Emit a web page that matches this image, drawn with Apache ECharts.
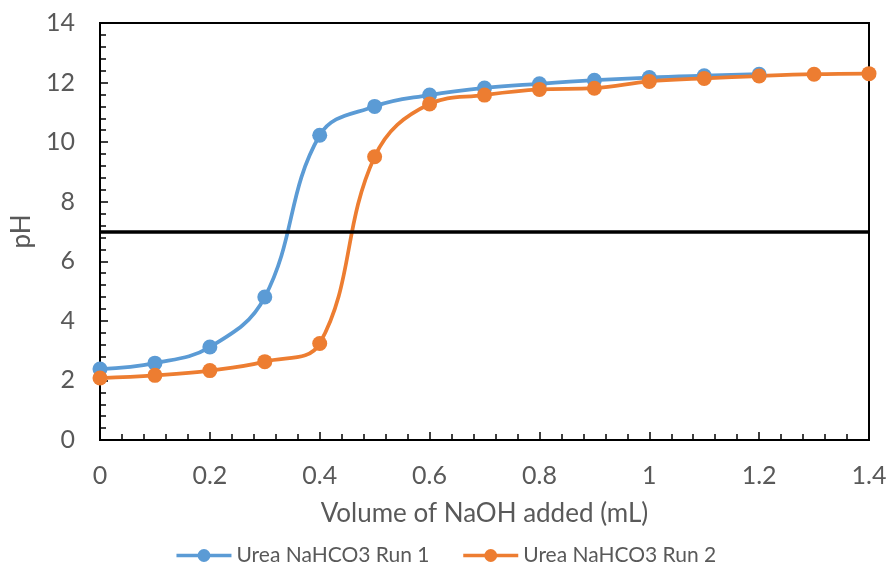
<!DOCTYPE html>
<html><head><meta charset="utf-8">
<script src="https://cdn.jsdelivr.net/npm/echarts@6/dist/echarts.min.js"></script>
<style>html,body{margin:0;padding:0;background:#fff}#c{width:891px;height:565px}</style>
</head><body><div id="c"></div>
<script>
const run1X = [0, 0.1, 0.2, 0.3, 0.4, 0.5, 0.6, 0.7, 0.8, 0.9, 1.0, 1.1, 1.2];
const run1Y = [2.38, 2.58, 3.12, 4.8, 10.23, 11.2, 11.58, 11.82, 11.96, 12.08, 12.17, 12.23, 12.28];
const run2X = [0, 0.1, 0.2, 0.3, 0.4, 0.5, 0.6, 0.7, 0.8, 0.9, 1.0, 1.1, 1.2, 1.3, 1.4];
const run2Y = [2.08, 2.17, 2.33, 2.63, 3.24, 9.51, 11.28, 11.58, 11.77, 11.81, 12.04, 12.14, 12.22, 12.28, 12.3];
const refPH = 7;
const xTicks = [0, 0.2, 0.4, 0.6, 0.8, 1, 1.2, 1.4];
const yTicks = [0, 2, 4, 6, 8, 10, 12, 14];

const font = 'Lato, "Open Sans", sans-serif';
const grey = '#595959';
const chart = echarts.init(document.getElementById('c'));
chart.setOption({
  animation: false,
  grid: {left: 100, right: 22, top: 23, bottom: 125, show: true, borderColor: '#000', borderWidth: 2},
  legend: {
    top: 540, left: 'center', itemWidth: 55, itemHeight: 16, itemGap: 32,
    lineStyle: {width: 3.5},
    textStyle: {fontFamily: font, fontSize: 21, color: grey},
    data: ['Urea NaHCO3 Run 1', 'Urea NaHCO3 Run 2']
  },
  xAxis: {
    type: 'value', min: xTicks[0], max: xTicks[xTicks.length - 1], interval: 0.2,
    name: 'Volume of NaOH added (mL)', nameLocation: 'middle', nameGap: 61,
    nameTextStyle: {fontFamily: font, fontSize: 26, color: grey},
    axisLine: {lineStyle: {color: '#000', width: 2}},
    axisTick: {inside: true, length: 8, lineStyle: {color: '#000', width: 1.5}},
    minorTick: {show: true, splitNumber: 5, length: 6, lineStyle: {color: '#000', width: 1.5}},
    splitLine: {show: false},
    axisLabel: {fontFamily: font, fontSize: 25, color: grey, margin: 23}
  },
  yAxis: {
    type: 'value', min: yTicks[0], max: yTicks[yTicks.length - 1], interval: 2,
    name: 'pH', nameLocation: 'middle', nameGap: 63,
    nameTextStyle: {fontFamily: font, fontSize: 26, color: grey},
    axisLine: {show: true, lineStyle: {color: '#000', width: 2}},
    axisTick: {show: true, inside: true, length: 8, lineStyle: {color: '#000', width: 1.5}},
    minorTick: {show: true, splitNumber: 5, length: 6, lineStyle: {color: '#000', width: 1.5}},
    splitLine: {show: false},
    axisLabel: {fontFamily: font, fontSize: 25, color: grey, margin: 25}
  },
  series: [
    {
      name: 'Urea NaHCO3 Run 1', type: 'line', smooth: 0.4,
      data: run1X.map((x, i) => [x, run1Y[i]]),
      symbol: 'circle', symbolSize: 15,
      lineStyle: {color: '#5B9BD5', width: 3.75}, itemStyle: {color: '#5B9BD5'},
      markLine: {
        silent: true, symbol: 'none', label: {show: false},
        lineStyle: {color: '#000', width: 3.5, type: 'solid'},
        data: [[{coord: [xTicks[0], refPH]}, {coord: [xTicks[xTicks.length - 1], refPH]}]]
      }
    },
    {
      name: 'Urea NaHCO3 Run 2', type: 'line', smooth: 0.4,
      data: run2X.map((x, i) => [x, run2Y[i]]),
      symbol: 'circle', symbolSize: 15,
      lineStyle: {color: '#ED7D31', width: 3.75}, itemStyle: {color: '#ED7D31'}
    }
  ]
});
</script></body></html>
